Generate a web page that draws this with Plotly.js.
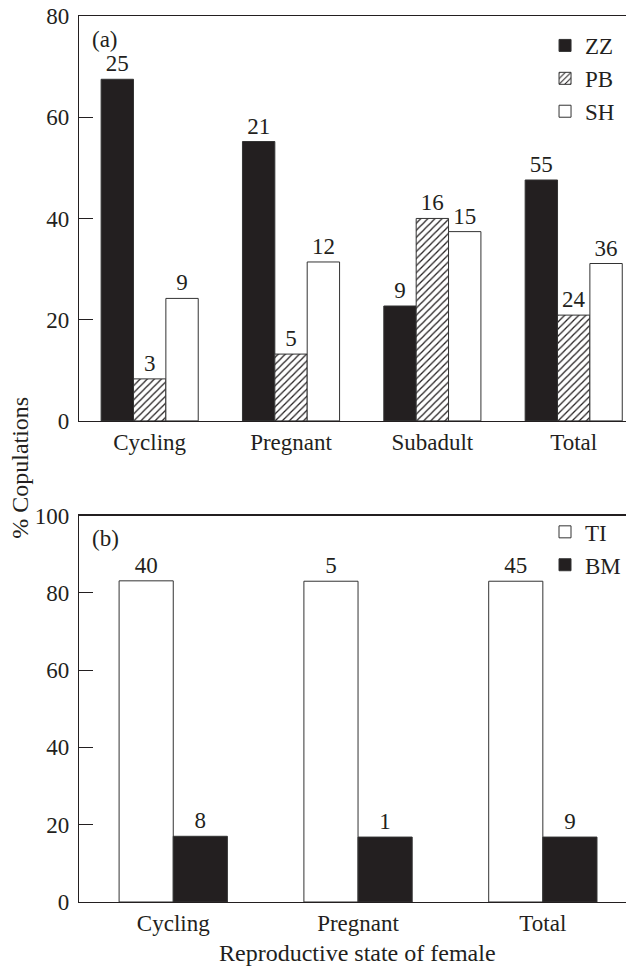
<!DOCTYPE html>
<html>
<head>
<meta charset="utf-8">
<script src="https://cdn.plot.ly/plotly-3.0.1.min.js"></script>
<style>html,body{margin:0;padding:0;background:#fff;}#chart{width:626px;height:966px;}</style>
</head>
<body>
<div id="chart"></div>
<script>
// Panel (a)
const catsA = ['Cycling', 'Pregnant', 'Subadult', 'Total'];
const zzPct = [67.5, 55.2, 22.7, 47.6];
const zzN = [25, 21, 9, 55];
const pbPct = [8.3, 13.2, 40.0, 20.9];
const pbN = [3, 5, 16, 24];
const shPct = [24.2, 31.4, 37.4, 31.1];
const shN = [9, 12, 15, 36];
// Panel (b)
const catsB = ['Cycling', 'Pregnant', 'Total'];
const tiPct = [83.1, 83.0, 83.0];
const tiN = [40, 5, 45];
const bmPct = [17.0, 16.8, 16.8];
const bmN = [8, 1, 9];

const INK = '#231f20';
const FONT = {family: 'Liberation Serif, Times New Roman, serif', size: 23, color: INK};
const TFONT = {family: 'Liberation Serif, Times New Roman, serif', size: 24, color: INK};
const lineSpec = {color: '#333333', width: 1};

// bar widths / offsets in category units
const WA = 0.229, WB = 0.293;

function bar(x, y, n, name, fill, pattern, xa, ya, legend, w, off) {
  const m = {color: fill, line: lineSpec};
  if (pattern) m.pattern = {shape: '/', fgcolor: INK, bgcolor: '#ffffff', size: 5, solidity: 0.25};
  return {
    type: 'bar', x: x, y: y, name: name, text: n.map(String),
    textposition: 'outside', textfont: FONT, cliponaxis: false,
    width: w, offset: off,
    marker: m, xaxis: xa, yaxis: ya, legend: legend, hoverinfo: 'skip'
  };
}

const data = [
  bar(catsA, zzPct, zzN, 'ZZ', INK, false, 'x', 'y', 'legend', WA, -1.5 * WA),
  bar(catsA, pbPct, pbN, 'PB', '#ffffff', true, 'x', 'y', 'legend', WA, -0.5 * WA),
  bar(catsA, shPct, shN, 'SH', '#ffffff', false, 'x', 'y', 'legend', WA, 0.5 * WA),
  bar(catsB, tiPct, tiN, 'TI', '#ffffff', false, 'x2', 'y2', 'legend2', WB, -WB),
  bar(catsB, bmPct, bmN, 'BM', INK, false, 'x2', 'y2', 'legend2', WB, 0)
];

const yAxisBase = {
  showgrid: false, zeroline: false, showline: true, linecolor: INK, linewidth: 1.2,
  ticks: 'inside', ticklen: 14, tickcolor: INK, tickwidth: 1, tickfont: FONT,
  ticklabelstandoff: 4, fixedrange: true
};
const xAxisBase = {
  type: 'category', showgrid: false, zeroline: false, showline: true, mirror: true,
  linecolor: INK, linewidth: 1.2, ticks: '', tickfont: FONT, fixedrange: true
};

const layout = {
  width: 626, height: 966,
  margin: {l: 79, r: 0, t: 16, b: 64},
  paper_bgcolor: '#ffffff', plot_bgcolor: '#ffffff',
  font: FONT,
  barmode: 'overlay',
  xaxis: Object.assign({}, xAxisBase, {domain: [0, 1], anchor: 'y', range: [-0.5, 3.37]}),
  yaxis: Object.assign({}, yAxisBase, {domain: [0.543, 1], anchor: 'x', range: [0, 80], tickvals: [0, 20, 40, 60, 80]}),
  xaxis2: Object.assign({}, xAxisBase, {domain: [0, 1], anchor: 'y2', range: [-0.51, 2.45]}),
  yaxis2: Object.assign({}, yAxisBase, {domain: [0, 0.4362], anchor: 'x2', range: [0, 100], tickvals: [0, 20, 40, 60, 80, 100]}),
  showlegend: true,
  legend: {x: 0.852, y: 0.991, xanchor: 'left', yanchor: 'top', bgcolor: 'rgba(0,0,0,0)',
           font: FONT, tracegroupgap: 0, itemwidth: 30, traceorder: 'normal'},
  legend2: {x: 0.852, y: 0.442, xanchor: 'left', yanchor: 'top', bgcolor: 'rgba(0,0,0,0)',
            font: FONT, tracegroupgap: 0, itemwidth: 30, traceorder: 'normal'},
  annotations: [
    {text: '(a)', xref: 'paper', yref: 'paper', x: 0.020, y: 0.974, xanchor: 'left', yanchor: 'middle', showarrow: false, font: FONT},
    {text: '(b)', xref: 'paper', yref: 'paper', x: 0.020, y: 0.410, xanchor: 'left', yanchor: 'middle', showarrow: false, font: FONT},
    {text: '% Copulations', xref: 'paper', yref: 'paper', x: -0.108, y: 0.490, xanchor: 'center', yanchor: 'middle',
     textangle: -90, showarrow: false, font: TFONT},
    {text: 'Reproductive state of female', xref: 'paper', yref: 'paper', x: 0.51, y: 0, yshift: -51,
     xanchor: 'center', yanchor: 'middle', showarrow: false, font: TFONT}
  ]
};

Plotly.newPlot('chart', data, layout, {displayModeBar: false, staticPlot: true});
</script>
</body>
</html>
